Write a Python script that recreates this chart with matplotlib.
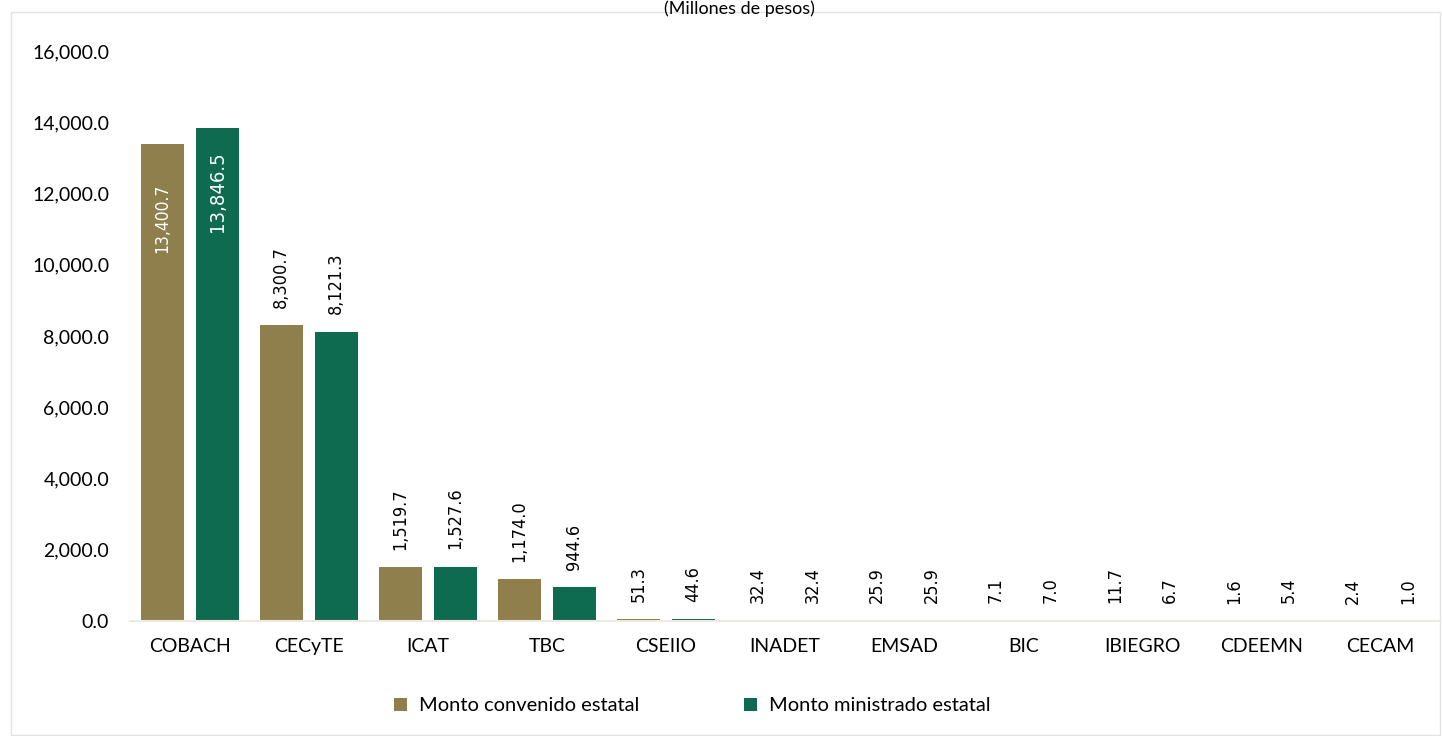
"""Monto convenido vs ministrado estatal por subsistema (millones de pesos)."""

import matplotlib.pyplot as plt
import numpy as np
from matplotlib.patches import Rectangle

categories = ["COBACH", "CECyTE", "ICAT", "TBC", "CSEIIO", "INADET",
              "EMSAD", "BIC", "IBIEGRO", "CDEEMN", "CECAM"]
convenido = [13400.7, 8300.7, 1519.7, 1174.0, 51.3, 32.4, 25.9, 7.1, 11.7, 1.6, 2.4]
ministrado = [13846.5, 8121.3, 1527.6, 944.6, 44.6, 32.4, 25.9, 7.0, 6.7, 5.4, 1.0]
yticks = np.arange(0, 16001, 2000)

GOLD = "#8F7F4C"
GREEN = "#0E6B4F"
TICK_FONT = "Lato"
LABEL_FONT = "DejaVu Sans"

fig = plt.figure(figsize=(14.42, 7.36), dpi=100)
ax = fig.add_axes([0.0902, 0.1562, 0.9084, 0.7745])

x = np.arange(len(categories))
w = 0.36
off = 0.231
ax.bar(x - off, convenido, w, color=GOLD, label="Monto convenido estatal")
ax.bar(x + off, ministrado, w, color=GREEN, label="Monto ministrado estatal")


def put_label(xpos, val, inside=False, dy=0, size=13):
    txt = f"{val:,.1f}"
    if inside:
        ax.annotate(txt, (xpos, val), xytext=(0, dy), textcoords="offset points",
                    rotation=90, ha="center", va="top", color="white",
                    fontsize=size, family=LABEL_FONT, stretch="condensed")
    else:
        ax.annotate(txt, (xpos, val), xytext=(0, 12.5), textcoords="offset points",
                    rotation=90, ha="center", va="bottom", color="black",
                    fontsize=size, family=LABEL_FONT, stretch="condensed")


for i in range(len(categories)):
    if i == 0:
        put_label(x[i] - off, convenido[i], inside=True, dy=-29, size=12.5)
        put_label(x[i] + off, ministrado[i], inside=True, dy=-17, size=14.5)
    else:
        put_label(x[i] - off, convenido[i])
        put_label(x[i] + off, ministrado[i])

ax.set_xlim(-0.5, len(categories) - 0.5)
ax.set_ylim(0, 16000)
ax.set_yticks(yticks)
ax.set_yticklabels([f"{v:,.1f}" for v in yticks], family=TICK_FONT, fontsize=14)
ax.set_xticks(x)
ax.set_xticklabels(categories, family=TICK_FONT, fontsize=14)
ax.tick_params(axis="both", length=0)
ax.tick_params(axis="y", pad=15)
ax.tick_params(axis="x", pad=12)
for side in ["top", "right", "left"]:
    ax.spines[side].set_visible(False)
ax.spines["bottom"].set_color("#EEEAE3")
ax.spines["bottom"].set_linewidth(1.5)

leg = fig.legend(loc="center", bbox_to_anchor=(0.480, 0.041), ncol=2, frameon=False,
                 prop={"family": TICK_FONT, "size": 14.5}, handlelength=0.65,
                 handleheight=0.65, handletextpad=0.6, columnspacing=5.2)

fig.patches.append(Rectangle((11 / 1442, 1 / 736), 1429 / 1442, 723 / 736,
                             transform=fig.transFigure, fill=False,
                             edgecolor="#E3E3E3", linewidth=1))
fig.text(0.513, 0.999, "(Millones de pesos)", ha="center", va="top",
         family=TICK_FONT, fontsize=13)

fig.savefig("out.png", dpi=100)
